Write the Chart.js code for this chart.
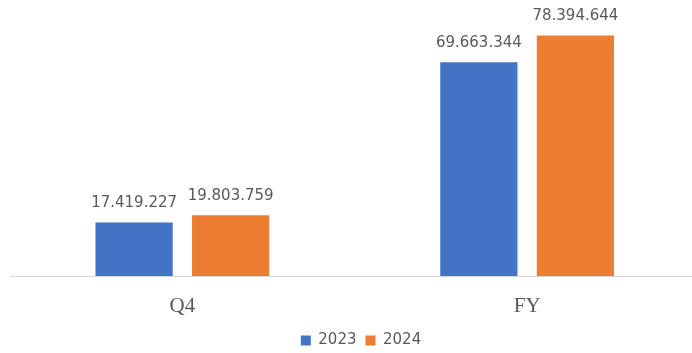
<!DOCTYPE html>
<html>
<head>
<meta charset="utf-8">
<script src="https://cdn.jsdelivr.net/npm/chart.js@4"></script>
<style>
  html, body { margin: 0; padding: 0; background: #fff; overflow: hidden; }
  #wrap { position: relative; width: 712px; height: 358px; }
</style>
</head>
<body>
<div id="wrap"><canvas id="chart"></canvas></div>
<script>
// values
var categories = ['Q4', 'FY'];
var sales2023 = [17419227, 69663344];
var sales2024 = [19803759, 78394644];
var seriesLabels = ['2023', '2024'];
var seriesColors = ['#4472C4', '#ED7D31'];

function fmtDots(n) {
    return String(n).replace(/\B(?=(\d{3})+(?!\d))/g, '.');
}

// draws the value over each bar
var valueLabels = {
    id: 'valueLabels',
    afterDatasetsDraw: function(chart) {
        var ctx = chart.ctx;
        ctx.save();
        ctx.font = '15px "DejaVu Sans"';
        ctx.fillStyle = '#595959';
        ctx.textAlign = 'center';
        ctx.textBaseline = 'bottom';
        chart.data.datasets.forEach(function(ds, i) {
            chart.getDatasetMeta(i).data.forEach(function(bar, j) {
                ctx.fillText(fmtDots(ds.data[j]), bar.x, bar.y - 12);
            });
        });
        ctx.restore();
    }
};

new Chart(document.getElementById('chart'), {
    type: 'bar',
    data: {
        labels: categories,
        datasets: [
            { label: seriesLabels[0], data: sales2023, backgroundColor: seriesColors[0] },
            { label: seriesLabels[1], data: sales2024, backgroundColor: seriesColors[1] }
        ]
    },
    options: {
        responsive: true,
        maintainAspectRatio: false,
        animation: false,
        categoryPercentage: 0.56,
        barPercentage: 0.8,
        layout: { padding: { left: 10, right: 0, top: 0, bottom: 0 } },
        scales: {
            x: {
                grid: { display: false, drawTicks: false },
                border: { color: '#d9d9d9', width: 1 },
                ticks: { color: '#595959', font: { family: '"Liberation Serif"', size: 21, lineHeight: 1 }, padding: 20 },
                afterFit: function(axis) { axis.height = 48; }
            },
            y: {
                position: 'right',
                min: 0,
                max: 90000000,
                grid: { display: false, drawTicks: false },
                border: { display: false },
                ticks: { display: false },
                afterFit: function(axis) { axis.width = 12.5; }
            }
        },
        plugins: {
            legend: {
                position: 'bottom',
                labels: {
                    color: '#595959',
                    font: { family: '"DejaVu Sans"', size: 15 },
                    boxWidth: 10,
                    boxHeight: 10,
                    padding: 9
                }
            },
            tooltip: { enabled: false }
        }
    },
    plugins: [valueLabels]
});
</script>
</body>
</html>
